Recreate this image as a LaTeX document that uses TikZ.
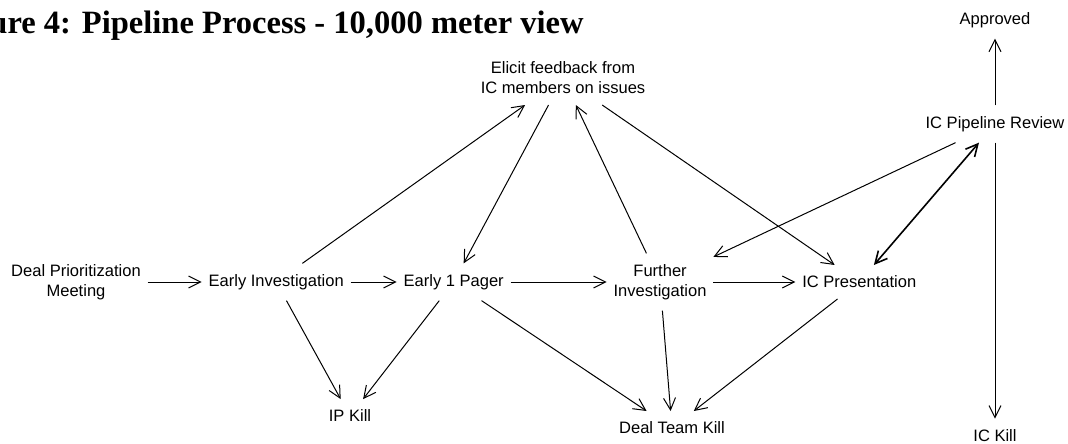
\documentclass[tikz,border=0pt]{standalone}
\usepackage{fontspec}
\setmainfont{Liberation Sans}
\newfontfamily\titlefont{Liberation Serif}
\usetikzlibrary{arrows.meta,positioning}

\tikzstyle{stage}  = [inner xsep=5pt, inner ysep=8pt, align=center, font=\fontsize{12.4}{15}\selectfont]
\tikzstyle{flow}   = [draw, line width=0.75pt, -{Straight Barb[length=9pt,width=9pt]}]
\tikzstyle{review} = [draw, line width=1.2pt, {Straight Barb[length=9pt,width=9pt]}-{Straight Barb[length=9pt,width=9pt]}]

\begin{document}
\begin{tikzpicture}[x=0.75pt, y=-0.75pt]
\useasboundingbox (0,0) rectangle (1068,443);

% caption, cut at the left edge
\node[anchor=base west, inner sep=0pt, font=\titlefont\fontsize{24.4}{29}\selectfont\bfseries] (title) at (-56,33) {Figure 4: Pipeline Process - 10,000 meter view};

% main row =============================
\node[stage] (dp) at (76,282) {Deal Prioritization\\Meeting};
\node[stage, right=40.5pt of dp] (ei) {Early Investigation};
\node[stage, right=34.5pt of ei] (ep) {Early 1 Pager};
\node[stage, right=72pt of ep] (fi) {Further\\Investigation};
\node[stage, right=61.5pt of fi] (icp) {IC Presentation};

% feedback and kills
\node[stage] (fb) at (563,78) {Elicit feedback from\\IC members on issues};
\node[stage] (ipk) at (350,416) {IP Kill};
\node[stage] (dtk) at (672,428) {Deal Team Kill};

% IC review column
\node[stage] (icpr) at (995,124) {IC Pipeline Review};
\node[stage, above=50pt of icpr] (appr) {Approved};
\node[stage, below=207pt of icpr] (ick) {IC Kill};

% edges
\path[flow] (dp) edge (ei);
\path[flow] (ei) edge (ep);
\path[flow] (ep) edge (fi);
\path[flow] (fi) edge (icp);

\path[flow] (ei) edge (fb);
\path[flow] (fb) edge (ep);
\path[flow] (fi) edge (fb);
\path[flow] (fb) edge (icp);

\path[flow] (ei) edge (ipk);
\path[flow] (ep) edge (ipk);
\path[flow] (ep) edge (dtk);
\path[flow] (fi) edge (dtk);
\path[flow] (icp) edge (dtk);

\path[flow] (icpr) edge (fi);
\path[review] (icp) -- (icpr);
\path[flow] (icpr) edge (appr);
\path[flow] (icpr) edge (ick);

\end{tikzpicture}
\end{document}
